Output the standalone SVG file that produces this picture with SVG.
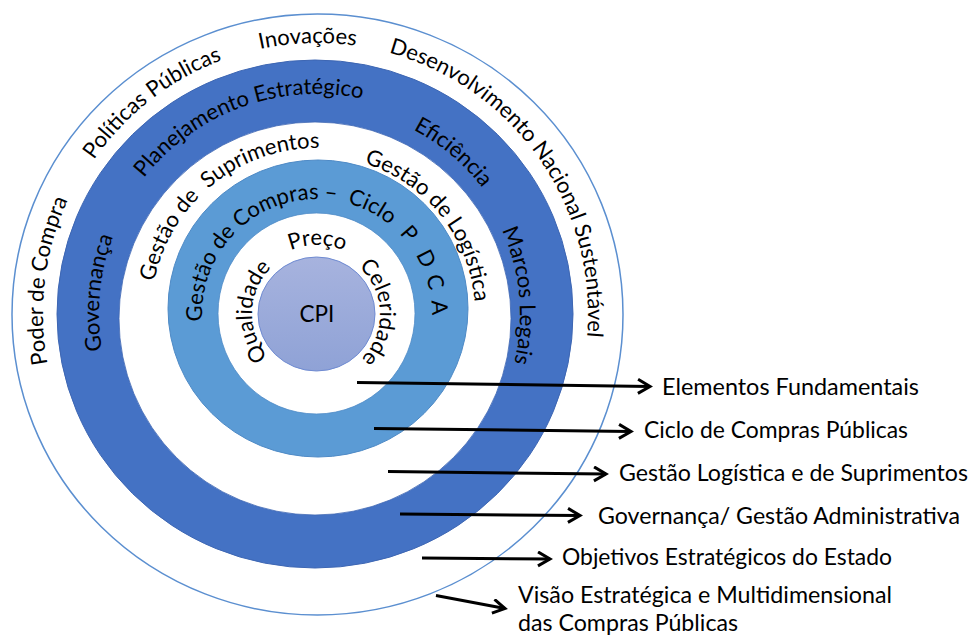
<svg xmlns="http://www.w3.org/2000/svg" xmlns:xlink="http://www.w3.org/1999/xlink" width="973" height="636" viewBox="0 0 973 636">
<style>
  .rt { font-family: Lato, "Liberation Sans", sans-serif; font-size: 22px; fill: #000; }
  .lb { font-family: Lato, "Liberation Sans", sans-serif; font-size: 22.5px; fill: #000; }
  .ar { stroke: #000; stroke-width: 3; fill: none; marker-end: url(#ah); }
</style>
<defs>
  <marker id="ah" markerUnits="userSpaceOnUse" markerWidth="17" markerHeight="18" refX="14" refY="8" orient="auto">
    <path d="M2,1 L14,8 L2,15" fill="none" stroke="#000" stroke-width="3" stroke-linejoin="miter"/>
  </marker>
  <linearGradient id="cpiG" x1="0" y1="0" x2="0" y2="1">
    <stop offset="0" stop-color="#A7B3DE"/>
    <stop offset="1" stop-color="#8FA2D6"/>
  </linearGradient>
  <path id="c271" d="M317 585 A271 271 0 1 1 317 43 A271 271 0 1 1 317 585"/>
  <path id="c274" d="M317 588 A274 274 0 1 1 317 40 A274 274 0 1 1 317 588"/>
  <path id="c218" d="M317 532 A218 218 0 1 1 317 96 A218 218 0 1 1 317 532"/>
  <path id="c220" d="M317 534 A220 220 0 1 1 317 94 A220 220 0 1 1 317 534"/>
  <path id="c208" d="M317 522 A208 208 0 1 1 317 106 A208 208 0 1 1 317 522"/>
  <path id="c203" d="M317 517 A203 203 0 1 1 317 111 A203 203 0 1 1 317 517"/>
  <path id="c166" d="M317 480 A166 166 0 1 1 317 148 A166 166 0 1 1 317 480"/>
  <path id="c158" d="M317 472 A158 158 0 1 1 317 156 A158 158 0 1 1 317 472"/>
  <path id="c115" d="M317 429 A115 115 0 1 1 317 199 A115 115 0 1 1 317 429"/>
  <path id="c69" d="M317 383 A69 69 0 1 1 317 245 A69 69 0 1 1 317 383"/>
  <path id="c65" d="M317 379 A65 65 0 1 1 317 249 A65 65 0 1 1 317 379"/>
  <path id="c63" d="M317 377 A63 63 0 1 1 317 251 A63 63 0 1 1 317 377"/>
</defs>

<g id="ring-outer">
  <ellipse cx="317.5" cy="314.5" rx="305.5" ry="300.5" fill="#fff" stroke="#5B8FD0" stroke-width="1.5"/>
  <text class="rt"><textPath xlink:href="#c271" href="#c271" startOffset="841.9" text-anchor="middle">Inovações</textPath></text>
  <text class="rt"><textPath xlink:href="#c271" href="#c271" startOffset="671.6" text-anchor="middle">Políticas Públicas</textPath></text>
  <text class="rt"><textPath xlink:href="#c274" href="#c274" startOffset="463.9" text-anchor="middle">Poder de Compra</textPath></text>
  <text class="rt"><textPath xlink:href="#c271" href="#c271" startOffset="1111.5" text-anchor="middle">Desenvolvimento Nacional Sustentável</textPath></text>
</g>

<g id="ring-governanca">
  <ellipse cx="315" cy="314" rx="258" ry="254" fill="#4472C4" stroke="#3D66B3" stroke-width="1"/>
  <text class="rt"><textPath xlink:href="#c218" href="#c218" startOffset="363.4" text-anchor="middle">Governança</textPath></text>
  <text class="rt"><textPath xlink:href="#c220" href="#c220" startOffset="614.3" text-anchor="middle">Planejamento Estratégico</textPath></text>
  <text class="rt"><textPath xlink:href="#c208" href="#c208" startOffset="798.7" text-anchor="middle">Eficiência</textPath></text>
  <text class="rt"><textPath xlink:href="#c203" href="#c203" startOffset="937.8" text-anchor="middle">Marcos Legais</textPath></text>
</g>

<g id="ring-logistica">
  <ellipse cx="315" cy="318.5" rx="196" ry="196.5" fill="#fff" stroke="#3D66B3" stroke-width="0.8"/>
  <text class="rt"><textPath xlink:href="#c166" href="#c166" startOffset="408.5" text-anchor="middle" xml:space="preserve">Gestão de  Suprimentos</textPath></text>
  <text class="rt"><textPath xlink:href="#c158" href="#c158" startOffset="638.1" text-anchor="middle">Gestão de Logística</textPath></text>
</g>

<g id="ring-ciclo">
  <ellipse cx="318" cy="308.5" rx="150" ry="148.5" fill="#5B9BD5" stroke="#4E8AC6" stroke-width="1"/>
  <text class="rt"><textPath xlink:href="#c115" href="#c115" startOffset="277" text-anchor="middle">Gestão de Compras –</textPath></text>
  <text class="rt"><textPath xlink:href="#c115" href="#c115" startOffset="415.5" text-anchor="middle">Ciclo</textPath></text>
  <text class="rt"><textPath xlink:href="#c115" href="#c115" startOffset="459" text-anchor="middle">P</textPath></text>
  <text class="rt"><textPath xlink:href="#c115" href="#c115" startOffset="487.5" text-anchor="middle">D</textPath></text>
  <text class="rt"><textPath xlink:href="#c115" href="#c115" startOffset="511" text-anchor="middle">C</textPath></text>
  <text class="rt"><textPath xlink:href="#c115" href="#c115" startOffset="535.1" text-anchor="middle">A</textPath></text>
</g>

<g id="ring-elementos">
  <ellipse cx="316.5" cy="313.5" rx="98.5" ry="100.5" fill="#fff" stroke="#4E8AC6" stroke-width="0.8"/>
  <text class="rt"><textPath xlink:href="#c69" href="#c69" startOffset="216.8" text-anchor="middle">Preço</textPath></text>
  <text class="rt"><textPath xlink:href="#c65" href="#c65" startOffset="104.5" text-anchor="middle">Qualidade</textPath></text>
  <text class="rt"><textPath xlink:href="#c63" href="#c63" startOffset="294.7" text-anchor="middle">Celeridade</textPath></text>
</g>

<g id="cpi">
  <ellipse cx="316.5" cy="314" rx="58.5" ry="57" fill="url(#cpiG)" stroke="#6F8BD2" stroke-width="1"/>
  <text class="lb" x="317" y="322" text-anchor="middle">CPI</text>
</g>

<g id="connectors">
  <line class="ar" x1="357" y1="382.5" x2="650" y2="386.5"/>
  <line class="ar" x1="374" y1="428.5" x2="631" y2="431.5"/>
  <line class="ar" x1="388" y1="471.5" x2="606" y2="474"/>
  <line class="ar" x1="400" y1="514" x2="580" y2="515.5"/>
  <line class="ar" x1="422" y1="558" x2="550" y2="559"/>
  <line class="ar" x1="436" y1="595.5" x2="505" y2="608.5"/>
</g>

<g id="labels">
  <text id="lbl-elementos" class="lb" x="662" y="395" textLength="257" lengthAdjust="spacingAndGlyphs">Elementos Fundamentais</text>
  <text id="lbl-ciclo" class="lb" x="644" y="438" textLength="264" lengthAdjust="spacingAndGlyphs">Ciclo de Compras Públicas</text>
  <text id="lbl-logistica" class="lb" x="619" y="481" textLength="349" lengthAdjust="spacingAndGlyphs">Gestão Logística e de Suprimentos</text>
  <text id="lbl-governanca" class="lb" x="598" y="524" textLength="362" lengthAdjust="spacingAndGlyphs">Governança/ Gestão Administrativa</text>
  <text id="lbl-objetivos" class="lb" x="562" y="565" textLength="330" lengthAdjust="spacingAndGlyphs">Objetivos Estratégicos do Estado</text>
  <text id="lbl-visao" class="lb" x="518" y="603" textLength="374" lengthAdjust="spacingAndGlyphs">Visão Estratégica e Multidimensional</text>
  <text id="lbl-visao2" class="lb" x="518" y="631" textLength="220" lengthAdjust="spacingAndGlyphs">das Compras Públicas</text>
</g>
</svg>
